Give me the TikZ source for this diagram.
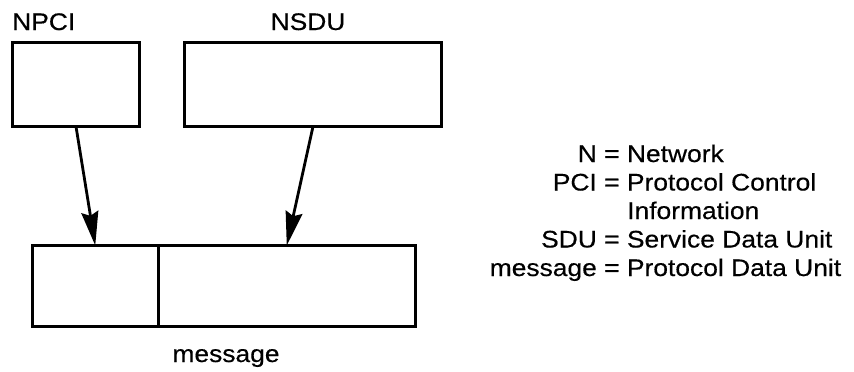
\documentclass[tikz,border=0pt]{standalone}
\usepackage{fontspec}
\setmainfont{Liberation Sans}[FakeStretch=1.1,FakeBold=0.4]
\usetikzlibrary{arrows.meta}
\begin{document}
\begin{tikzpicture}[x=1pt,y=-1pt,
  box/.style={draw, line width=3pt, rectangle, inner sep=0pt, outer sep=0pt},
  lab/.style={font=\fontsize{24}{26}\selectfont, inner sep=0pt},
  conn/.style={line width=2.8pt, -{Stealth[length=34pt,width=17pt,inset=4pt]}}]
\useasboundingbox (0,0) rectangle (854,372);
% upper boxes
\node[box, minimum width=127pt, minimum height=84pt] (npci) at (76,84.5) {};
\node[box, minimum width=257pt, minimum height=84pt] (nsdu) at (313,84.5) {};
% lower (message) box
\node[box, minimum width=125.5pt, minimum height=81pt] (mpci) at (95.25,286) {};
\node[box, minimum width=257.5pt, minimum height=81pt] (msdu) at (286.75,286) {};
% labels
\node[lab, anchor=base west] (tnpci) at (12,30) {NPCI};
\node[lab, anchor=base] (tnsdu) at (308,30) {NSDU};
\node[lab, anchor=base] (tmsg) at (226,362) {message};
% connectors
\draw[conn] (npci.south) -- (mpci.north);
\draw[conn] (nsdu.south) -- (msdu.north);
% legend
\node[lab, anchor=base west] (l1) at (604,162) {\llap{N\ }= Network};
\node[lab, anchor=base west] (l2) at (604,190.5) {\llap{PCI\ }= Protocol Control};
\node[lab, anchor=base west] (l3) at (627,219) {Information};
\node[lab, anchor=base west] (l4) at (604,247.5) {\llap{SDU\ }= Service Data Unit};
\node[lab, anchor=base west] (l5) at (604,276) {\llap{message\ }= Protocol Data Unit};
\end{tikzpicture}
\end{document}
